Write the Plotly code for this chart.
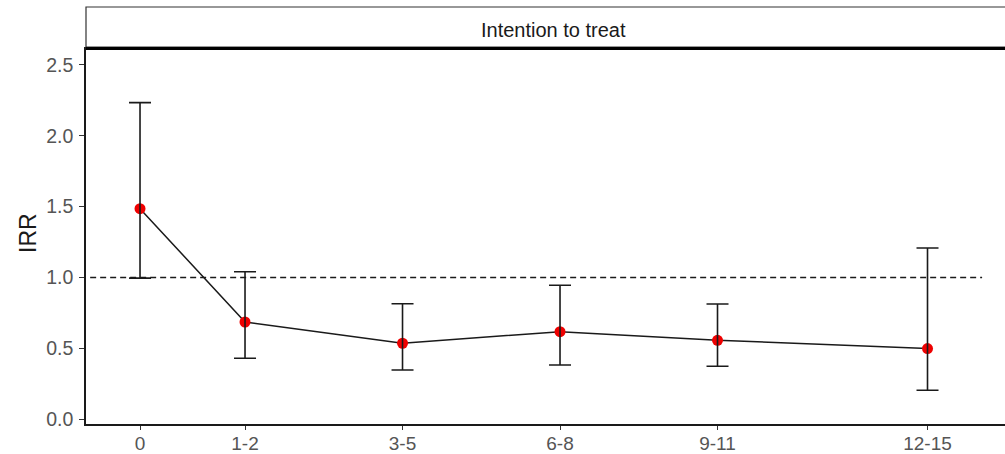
import plotly.graph_objects as go

# Data
categories = ["0", "1-2", "3-5", "6-8", "9-11", "12-15"]
x_pos = [0, 2, 5, 8, 11, 15]
irr = [1.485, 0.685, 0.535, 0.617, 0.556, 0.497]
upper = [2.234, 1.040, 0.814, 0.944, 0.812, 1.208]
lower = [0.995, 0.429, 0.346, 0.381, 0.372, 0.203]
y_ticks = [0.0, 0.5, 1.0, 1.5, 2.0, 2.5]
y_ticktext = ["0.0", "0.5", "1.0", "1.5", "2.0", "2.5"]
ref_line = 1.0
strip_label = "Intention to treat"

err_plus = [u - v for u, v in zip(upper, irr)]
err_minus = [v - l for v, l in zip(irr, lower)]

FONT = "Liberation Sans, Arial, sans-serif"

fig = go.Figure()

# reference dashed line
fig.add_trace(go.Scatter(
    x=[-0.95, 16.04], y=[ref_line, ref_line], mode="lines",
    line=dict(color="#1a1a1a", width=1.5, dash="6px,4px"),
    hoverinfo="skip", showlegend=False,
))

# connecting line + points
fig.add_trace(go.Scatter(
    x=x_pos, y=irr, mode="lines+markers",
    line=dict(color="#1a1a1a", width=1.5),
    marker=dict(color="#ee0000", size=11),
    showlegend=False,
))

# error bars on top
fig.add_trace(go.Scatter(
    x=x_pos, y=irr, mode="markers",
    marker=dict(color="rgba(0,0,0,0)", size=1),
    error_y=dict(type="data", symmetric=False, array=err_plus, arrayminus=err_minus,
                 color="#1a1a1a", thickness=1.6, width=11),
    showlegend=False,
))

fig.update_layout(
    width=1005, height=454,
    margin=dict(l=86, r=0, t=47, b=30),
    paper_bgcolor="white", plot_bgcolor="white",
    font=dict(family=FONT),
    xaxis=dict(
        range=[-1.029, 16.476], tickmode="array", tickvals=x_pos, ticktext=categories,
        showgrid=False, zeroline=False, showline=True, linecolor="#1a1a1a", linewidth=1.5,
        ticks="outside", ticklen=4, tickcolor="#333333", tickwidth=1.2,
        tickfont=dict(size=19, color="#555555", family=FONT),
        ticklabelstandoff=-3,
        automargin=False,
    ),
    yaxis=dict(
        range=[-0.0353, 2.627], tickmode="array", tickvals=y_ticks, ticktext=y_ticktext,
        showgrid=False, zeroline=False, showline=True, linecolor="#1a1a1a", linewidth=1.5,
        ticks="outside", ticklen=5, tickcolor="#333333", tickwidth=1.2,
        tickfont=dict(size=19.5, color="#555555", family=FONT),
        ticklabelstandoff=2,
        automargin=False,
    ),
    shapes=[
        dict(type="rect", xref="paper", yref="paper", x0=0, x1=1.05, y0=1, y1=1 + 40 / 377,
             fillcolor="white", line=dict(color="#333333", width=1.2), layer="above"),
        dict(type="line", xref="paper", yref="paper", x0=0, x1=1.05,
             y0=1 - 1.5 / 377, y1=1 - 1.5 / 377, line=dict(color="black", width=3)),
    ],
    annotations=[
        dict(text=strip_label, xref="paper", yref="paper", x=(553 - 86) / 919, y=1 + 17 / 377,
             xanchor="center", yanchor="middle", showarrow=False,
             font=dict(size=20, color="#1a1a1a", family=FONT)),
        dict(text="IRR", xref="paper", yref="paper", x=(28 - 86) / 919, y=(424 - 233) / 377,
             xanchor="center", yanchor="middle", showarrow=False, textangle=-90,
             font=dict(size=23, color="#1a1a1a", family=FONT)),
    ],
)

fig.write_html("out.html", config={"displayModeBar": False},
               post_script="document.body.style.margin='0px';document.body.style.overflow='hidden';")
